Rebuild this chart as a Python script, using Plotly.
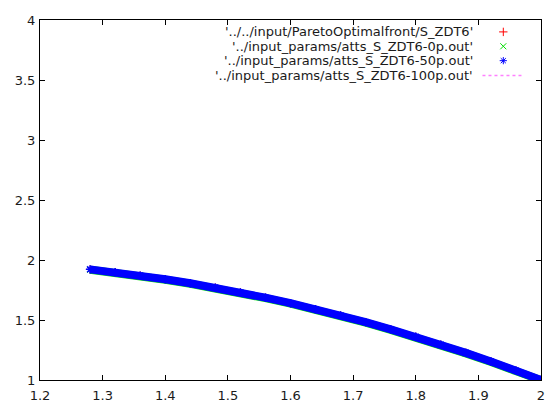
import plotly.graph_objects as go

# ---- data ----
front_x = [1.28, 1.32, 1.36, 1.40, 1.44, 1.48, 1.52, 1.56, 1.60, 1.64,
           1.68, 1.72, 1.76, 1.80, 1.84, 1.88, 1.92, 1.96, 2.00]
front_y = [1.922, 1.898, 1.870, 1.840, 1.806, 1.770, 1.730, 1.686, 1.640, 1.590,
           1.538, 1.482, 1.422, 1.360, 1.294, 1.226, 1.154, 1.078, 1.000]

p0_x = [1.28, 1.32, 1.36, 1.40, 1.44, 1.48, 1.52, 1.56, 1.60, 1.64,
        1.68, 1.72, 1.76, 1.80, 1.84, 1.88, 1.92, 1.96, 2.00]
p0_y = [1.918, 1.894, 1.866, 1.836, 1.802, 1.766, 1.726, 1.682, 1.636, 1.586,
        1.534, 1.478, 1.418, 1.356, 1.290, 1.222, 1.150, 1.074, 0.998]

p50_x = [1.28, 1.32, 1.36, 1.40, 1.44, 1.48, 1.52, 1.56, 1.60, 1.64,
         1.68, 1.72, 1.76, 1.80, 1.84, 1.88, 1.92, 1.96, 2.00]
p50_y = [1.922, 1.898, 1.870, 1.840, 1.806, 1.770, 1.730, 1.686, 1.640, 1.590,
         1.538, 1.482, 1.422, 1.360, 1.294, 1.226, 1.154, 1.078, 1.000]

p100_x = []
p100_y = []

series_names = [
    "'../../input/ParetoOptimalfront/S_ZDT6'",
    "'../input_params/atts_S_ZDT6-0p.out'",
    "'../input_params/atts_S_ZDT6-50p.out'",
    "'../input_params/atts_S_ZDT6-100p.out'",
]

x_ticks = [1.2, 1.3, 1.4, 1.5, 1.6, 1.7, 1.8, 1.9, 2.0]
x_tick_text = ["1.2", "1.3", "1.4", "1.5", "1.6", "1.7", "1.8", "1.9", "2"]
y_ticks = [1, 1.5, 2, 2.5, 3, 3.5, 4]
y_tick_text = ["1", "1.5", "2", "2.5", "3", "3.5", "4"]

# ---- layout constants ----
W, H = 551, 409
L, R, T, B = 40, 6, 20, 26
FONT = "DejaVu Sans, sans-serif"
FS = 13
TXT = "#1a1a1a"
RED, GREEN, BLUE, PINK = "#ff0000", "#00e000", "#0000ff", "#ff80ff"

pw, ph = W - L - R, H - T - B
def px_x(px):
    return (px - L) / pw
def px_y(py):
    return (H - B - py) / ph

fig = go.Figure()

fig.add_trace(go.Scatter(x=front_x, y=front_y, mode="markers",
                         marker=dict(symbol="cross-thin-open", size=6, color=RED,
                                     line=dict(width=1, color=RED)),
                         name=series_names[0], showlegend=False))
fig.add_trace(go.Scatter(x=p0_x, y=p0_y, mode="lines+markers",
                         line=dict(color=GREEN, width=8),
                         marker=dict(symbol="x-thin-open", size=6, color=GREEN,
                                     line=dict(width=1, color=GREEN)),
                         name=series_names[1], showlegend=False))
fig.add_trace(go.Scatter(x=p50_x, y=p50_y, mode="lines+markers",
                         line=dict(color=BLUE, width=8),
                         marker=dict(symbol="asterisk-open", size=7, color=BLUE,
                                     line=dict(width=1.5, color=BLUE)),
                         name=series_names[2], showlegend=False))
fig.add_trace(go.Scatter(x=p100_x, y=p100_y, mode="lines",
                         line=dict(color=PINK, width=1, dash="dot"),
                         name=series_names[3], showlegend=False))

# ---- gnuplot-style key (text right-aligned, sample on the right) ----
key_text_px = 478
key_sample_px = 507
key_line_px = (486, 527)
key_rows_py = [32, 46.5, 61, 76]
key_styles = [
    dict(symbol="cross-thin-open", color=RED, size=6),
    dict(symbol="x-thin-open", color=GREEN, size=6),
    dict(symbol="asterisk-open", color=BLUE, size=6),
]
for i, name in enumerate(series_names):
    fig.add_annotation(xref="paper", yref="paper", x=px_x(key_text_px),
                       y=px_y(key_rows_py[i]), xanchor="right", yanchor="middle",
                       text=name, showarrow=False,
                       font=dict(family=FONT, size=FS, color=TXT))
for i, st in enumerate(key_styles):
    fig.add_trace(go.Scatter(x=[px_x(key_sample_px)], y=[px_y(key_rows_py[i])],
                             xaxis="x2", yaxis="y2", mode="markers",
                             marker=dict(symbol=st["symbol"], size=st["size"],
                                         color=st["color"],
                                         line=dict(width=1, color=st["color"])),
                             showlegend=False, hoverinfo="skip"))
fig.add_trace(go.Scatter(x=[px_x(key_line_px[0]), px_x(key_line_px[1])],
                         y=[px_y(key_rows_py[3])] * 2,
                         xaxis="x2", yaxis="y2", mode="lines",
                         line=dict(color=PINK, width=1.5, dash="dot"),
                         showlegend=False, hoverinfo="skip"))

axis_common = dict(showgrid=False, zeroline=False, showline=True, linecolor="black",
                   linewidth=1, mirror="allticks", ticks="inside", ticklen=5,
                   tickcolor="black", ticklabeloverflow="allow",
                   tickfont=dict(family=FONT, size=FS, color=TXT))

fig.update_layout(
    width=W, height=H,
    margin=dict(l=L, r=R, t=T, b=B, pad=0),
    paper_bgcolor="white", plot_bgcolor="white",
    showlegend=False,
    xaxis=dict(range=[1.2, 2.0], tickvals=x_ticks, ticktext=x_tick_text,
               ticklabelstandoff=3, **axis_common),
    yaxis=dict(range=[1, 4], tickvals=y_ticks, ticktext=y_tick_text,
               ticklabelstandoff=1, **axis_common),
    xaxis2=dict(range=[0, 1], overlaying="x", visible=False),
    yaxis2=dict(range=[0, 1], overlaying="y", visible=False),
)

fig.write_html("out.html",
               config={"displayModeBar": False},
               post_script="document.body.style.margin='0';document.body.style.overflow='hidden';")
